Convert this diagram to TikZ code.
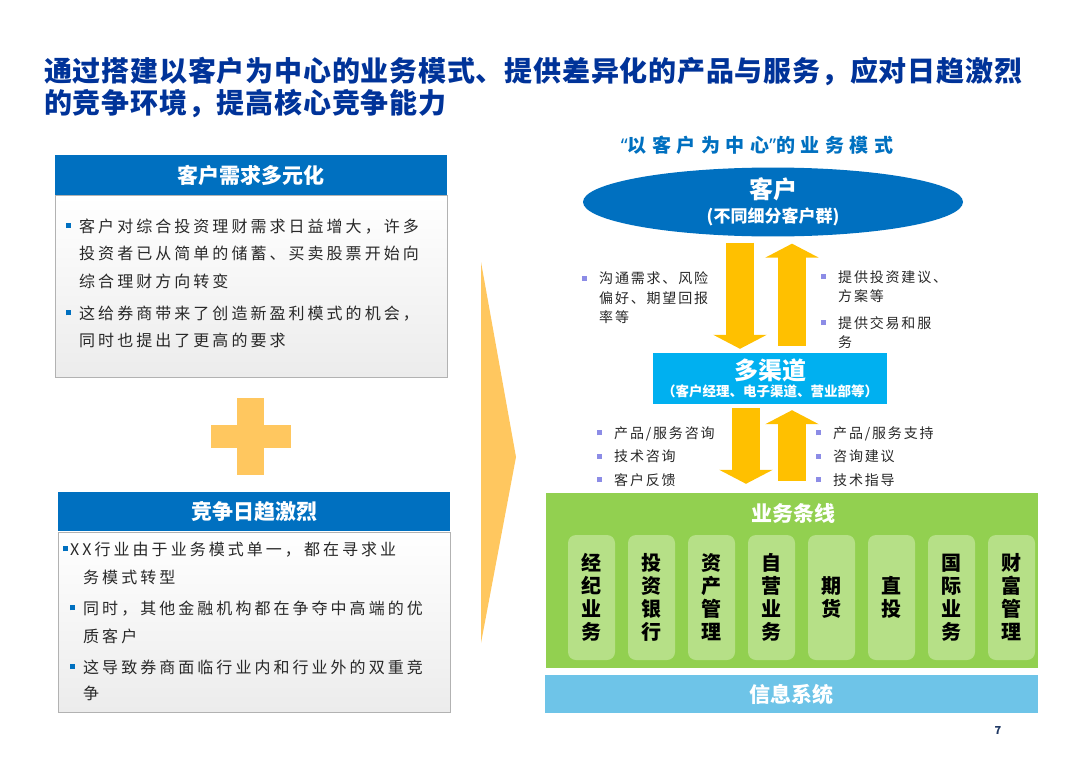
\documentclass[tikz,border=0pt]{standalone}
\usepackage{fontspec}
\setmainfont{Noto Sans CJK SC}
\newfontfamily\bodyfont[LetterSpace=19]{Noto Sans CJK SC}
\newfontfamily\notefont[LetterSpace=13]{Noto Sans CJK SC}
\newfontfamily\headfont[LetterSpace=2.8]{Noto Sans CJK SC}
\newfontfamily\modelfont[LetterSpace=29]{Noto Sans CJK SC}
\newfontfamily\latinfont[LetterSpace=29]{Noto Sans}
\usetikzlibrary{positioning}
\usetikzlibrary{shapes.geometric}
\usetikzlibrary{calc}
\usetikzlibrary{arrows.meta}
\definecolor{titleblue}{RGB}{0,51,153}
\definecolor{hdblue}{RGB}{0,112,192}
\definecolor{chanblue}{RGB}{0,176,240}
\definecolor{linegreen}{RGB}{146,208,80}
\definecolor{tilegreen}{RGB}{182,224,135}
\definecolor{infoblue}{RGB}{110,196,232}
\definecolor{gold}{RGB}{255,192,0}
\definecolor{softorange}{RGB}{255,199,95}
\definecolor{notebul}{RGB}{140,140,230}
\definecolor{bodytext}{RGB}{40,40,40}
\definecolor{pagenum}{RGB}{31,56,100}

% square bullets in front of a paragraph
\newcommand{\bul}[1][8pt]{\llap{\textcolor{hdblue}{\rule[4pt]{5pt}{5pt}}\hspace{#1}}}
\newcommand{\nbul}{\llap{\textcolor{notebul}{\rule[3pt]{5pt}{5pt}}\hspace{12pt}}}

\begin{document}
\begin{tikzpicture}[x=1pt,y=-1pt,
  hdr/.style={fill=hdblue, text=white, font=\fontsize{21}{24}\selectfont\bfseries,
    minimum width=392pt, minimum height=40pt, inner sep=0pt},
  bodybox/.style={draw=gray!60, top color=white, bottom color=gray!15,
    minimum width=392pt, inner sep=0pt, anchor=north},
  para/.style={anchor=west, align=left, inner sep=0pt, text=bodytext,
    font=\bodyfont\fontsize{16}{27.5}\selectfont},
  note/.style={anchor=west, align=left, inner sep=0pt, text=bodytext,
    font=\notefont\fontsize{14}{19.5}\selectfont},
  tile/.style={fill=tilegreen, rounded corners=8pt, minimum width=47pt,
    minimum height=125pt, inner sep=0pt, align=center,
    font=\fontsize{20}{23}\selectfont\bfseries},
  bigarrow/.style={draw=gold, line width=27.5pt, -{Triangle[width=53pt,length=14pt]}},
]

\useasboundingbox (0,0) rectangle (1080,763);
\fill[white] (0,0) rectangle (1080,763);

%---------------------------------------
% Title
%---------------------------------------
\node[anchor=west, align=left, inner sep=0pt, text=titleblue,
  font=\headfont\fontsize{28}{32}\selectfont\bfseries] (title) at (44,88)
  {通过搭建以客户为中心的业务模式、提供差异化的产品与服务，应对日趋激烈\\的竞争环境，提高核心竞争能力};

%====================================================
% LEFT: two drivers
%====================================================
\node[hdr] (needh) at (251,175) {客户需求多元化};
\node[bodybox, minimum height=182pt] (needb) at (needh.south) {};
\node[para] (need1) at (79,253.5)
  {\bul 客户对综合投资理财需求日益增大，许多\\投资者已从简单的储蓄、买卖股票开始向\\综合理财方向转变};
\node[para] (need2) at (79,327)
  {\bul 这给券商带来了创造新盈利模式的机会，\\同时也提出了更高的要求};

% plus sign
\fill[softorange] (237,398) rectangle (264,475);
\fill[softorange] (211,425) rectangle (291,448);

\node[hdr] (compeh) at (254,511.5) {竞争日趋激烈};
\node[bodybox, minimum height=180pt] (compeb) at (compeh.south) {};
\node[para, font=\bodyfont\fontsize{16}{28.5}\selectfont] (compe1) at (83,563.5)
  {\hspace*{-13pt}\bul[2pt]XX行业由于业务模式单一，都在寻求业\\务模式转型};
\node[para, font=\bodyfont\fontsize{16}{28.5}\selectfont] (compe2) at (83,622.5)
  {\bul 同时，其他金融机构都在争夺中高端的优\\质客户};
\node[para, font=\bodyfont\fontsize{16}{26}\selectfont] (compe3) at (83,680)
  {\bul 这导致券商面临行业内和行业外的双重竞\\争};

% big chevron
\fill[softorange] (481,262) -- (516,457) -- (481,643) -- cycle;

%====================================================
% RIGHT: customer centred model
%====================================================
\node[text=hdblue, inner sep=0pt,
  font=\modelfont\fontsize{19}{22}\selectfont\bfseries] (modelt) at (757,145)
  {{\latinfont “}以客户为中心{\latinfont ”}的业务模式};

\node[ellipse, fill=hdblue, text=white, minimum width=380pt, minimum height=60pt,
  inner sep=0pt, align=center, font=\fontsize{24}{24.4}\selectfont\bfseries] (kehu) at (773,202)
  {客户\\\fontsize{17}{24.4}\selectfont(不同细分客户群)};

\node[fill=chanblue, text=white, minimum width=234pt, minimum height=51pt,
  inner sep=0pt, align=center, font=\fontsize{24}{17}\selectfont\bfseries] (chan) at (770,378.5)
  {多渠道\\\fontsize{13.5}{17}\selectfont（客户经理、电子渠道、营业部等）};

\node[fill=linegreen, minimum width=492pt, minimum height=175pt, inner sep=0pt] (lines) at (792,580.5) {};
\node[text=white, inner sep=0pt, font=\fontsize{21}{24}\selectfont\bfseries] (linesh) at (793,513) {业务条线};

\foreach \t [count=\i from 0] in {{经\\纪\\业\\务},{投\\资\\银\\行},{资\\产\\管\\理},{自\\营\\业\\务},
    {期\\货},{直\\投},{国\\际\\业\\务},{财\\富\\管\\理}}
  \node[tile] (tile\i) at (591.5+60*\i,597.5) {\t};

\node[fill=infoblue, text=white, minimum width=493pt, minimum height=38pt, inner sep=0pt,
  font=\fontsize{21}{24}\selectfont\bfseries] (info) at (791.5,694) {信息系统};

% flows between layers
\draw[bigarrow] ($(kehu.south)+(-33,6)$) -- ($(chan.north)+(-30,-4)$);
\draw[bigarrow] ($(chan.north)+(22,-7)$) -- ($(kehu.south)+(19,7)$);
\draw[bigarrow] ($(chan.south)+(-24,4)$) -- ($(lines.north)+(-46,-9)$);
\draw[bigarrow] ($(lines.north)+(0,-12)$) -- ($(chan.south)+(22,6)$);

% side notes
\node[note] (ask) at (599,298) {\nbul 沟通需求、风险\\偏好、期望回报\\率等};
\node[note] (offer1) at (838,286.5) {\nbul 提供投资建议、\\方案等};
\node[note] (offer2) at (838,332.5) {\nbul 提供交易和服\\务};
\node[note, font=\notefont\fontsize{14}{23.5}\selectfont] (feedback) at (614,456.5)
  {\nbul 产品/服务咨询\\\nbul 技术咨询\\\nbul 客户反馈};
\node[note, font=\notefont\fontsize{14}{23.5}\selectfont] (support) at (833,456.5)
  {\nbul 产品/服务支持\\\nbul 咨询建议\\\nbul 技术指导};

\node[text=pagenum, inner sep=0pt, font=\fontsize{11}{12}\selectfont\bfseries] (page) at (998,731) {7};

\end{tikzpicture}
\end{document}
